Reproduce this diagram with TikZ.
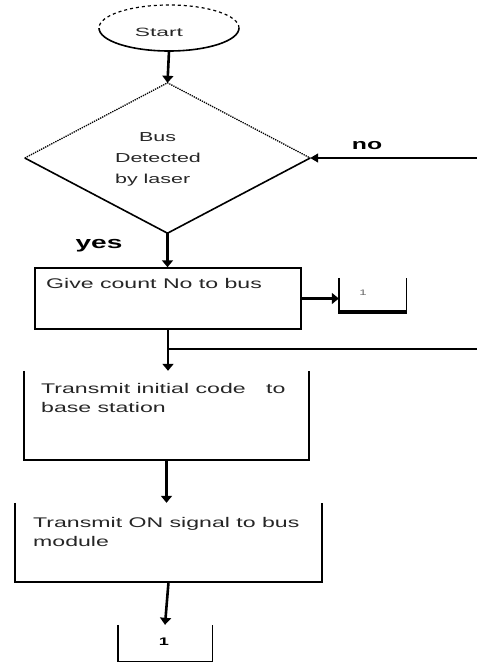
\documentclass[tikz,border=0pt]{standalone}
\usepackage{fontspec}
\setmainfont{Liberation Sans}
\newfontfamily\lbl[FakeStretch=1.65]{Liberation Sans}
\newfontfamily\lblw[FakeStretch=1.9]{Liberation Sans}
\usetikzlibrary{arrows.meta,shapes.geometric}
\begin{document}
\begin{tikzpicture}[x=1pt,y=-1pt,
  flow/.style={line width=2.6pt,-{Triangle[length=7pt,width=11pt]}},
  thinflow/.style={line width=1.4pt,-{Triangle[length=8pt,width=9pt]}},
  edge/.style={line width=1.6pt},
  boxtxt/.style={font=\lbl\fontsize{14}{19}\selectfont,text=black!85,align=left,inner sep=0pt,anchor=west},
  frame/.style={rectangle,draw=none,inner sep=0pt}]
\useasboundingbox (0,0) rectangle (477,662);

% Start terminal
\node[ellipse,draw=none,minimum width=140pt,minimum height=46pt,inner sep=0pt] (st) at (169,28) {};
\begin{scope}
  \clip (0,0) rectangle (477,28);
  \draw[dashed,line width=1.2pt] (st.center) ellipse [x radius=70pt,y radius=23pt];
\end{scope}
\begin{scope}
  \clip (0,28) rectangle (477,60);
  \draw[line width=1.6pt] (st.center) ellipse [x radius=70pt,y radius=23pt];
\end{scope}
\node[font=\lblw\fontsize{12}{14}\selectfont,text=black!85,inner sep=0pt] (sttxt) at (159,32) {Start};

% Decision
\node[diamond,draw=none,minimum width=285pt,minimum height=150pt,inner sep=0pt] (dia) at (167.5,158) {};
\draw[densely dotted,line width=1.3pt] (dia.west) -- (dia.north) -- (dia.east);
\draw[edge] (dia.west) -- (dia.south) -- (dia.east);
\node[font=\lbl\fontsize{13}{21}\selectfont,text=black!85,align=left,inner sep=0pt] (diatxt) at (158,159)
  {\hspace*{24pt}Bus\\Detected\\by laser};

% yes / no labels
\node[font=\lbl\fontsize{17}{19}\selectfont\bfseries,inner sep=0pt] (yes) at (99,246) {yes};
\node[font=\lbl\fontsize{15}{17}\selectfont\bfseries,inner sep=0pt] (no) at (367,146) {no};

% Boxes
\node[frame,draw,line width=1.5pt,minimum width=266pt,minimum height=61pt] (b1) at (168,298.5) {};
\node[boxtxt] (b1txt) at (46,283) {Give count No to bus};

\node[frame,minimum width=285pt,minimum height=89pt] (b2) at (166.5,415.5) {};
\draw[edge] (b2.north west) -- (b2.south west) -- (b2.south east) -- (b2.north east);
\node[boxtxt] (b2txt) at (41,397.5) {Transmit initial code \quad to\\base station};

\node[frame,minimum width=307pt,minimum height=79pt] (b3) at (168.5,542.5) {};
\draw[edge] (b3.north west) -- (b3.south west) -- (b3.south east) -- (b3.north east);
\node[boxtxt] (b3txt) at (33,531.5) {Transmit ON signal to bus\\module};

% Connectors "1"
\node[frame,minimum width=67pt,minimum height=34pt] (c1) at (372.5,295) {};
\draw[line width=1.4pt] (c1.north west) -- (c1.south west);
\draw[line width=3.5pt] ([xshift=-0.7pt]c1.south west) -- ([xshift=0.7pt]c1.south east);
\draw[line width=1.4pt] (c1.south east) -- (c1.north east);
\node[font=\lbl\fontsize{8}{9}\selectfont,text=black!60,inner sep=0pt] (c1txt) at (363,293) {1};

\node[frame,minimum width=94pt,minimum height=36pt] (c2) at (165,643) {};
\draw[line width=1.4pt] (c2.north west) -- (c2.south west) -- (c2.south east) -- (c2.north east);
\node[font=\lbl\fontsize{11}{12}\selectfont\bfseries,inner sep=0pt] (c2txt) at (164,642) {1};

% Connectors
\coordinate (noin) at (477,158);
\coordinate (jn) at (168,349);
\coordinate (loopend) at (477,349);

\draw[flow] (st.south) -- (dia.north);
\draw[thinflow] (noin) -- (dia.east);
\draw[flow] (dia.south) -- (dia.south |- b1.north);
\draw[flow] (b1.east) -- (c1.west |- b1.east);
\draw[edge] (jn) -- (loopend);
\draw[flow] (b1.south) -- (b1.south |- b2.north);
\draw[flow] (b2.south) -- (b2.south |- b3.north);
\draw[flow] (b3.south) -- (c2.north);
\end{tikzpicture}
\end{document}
